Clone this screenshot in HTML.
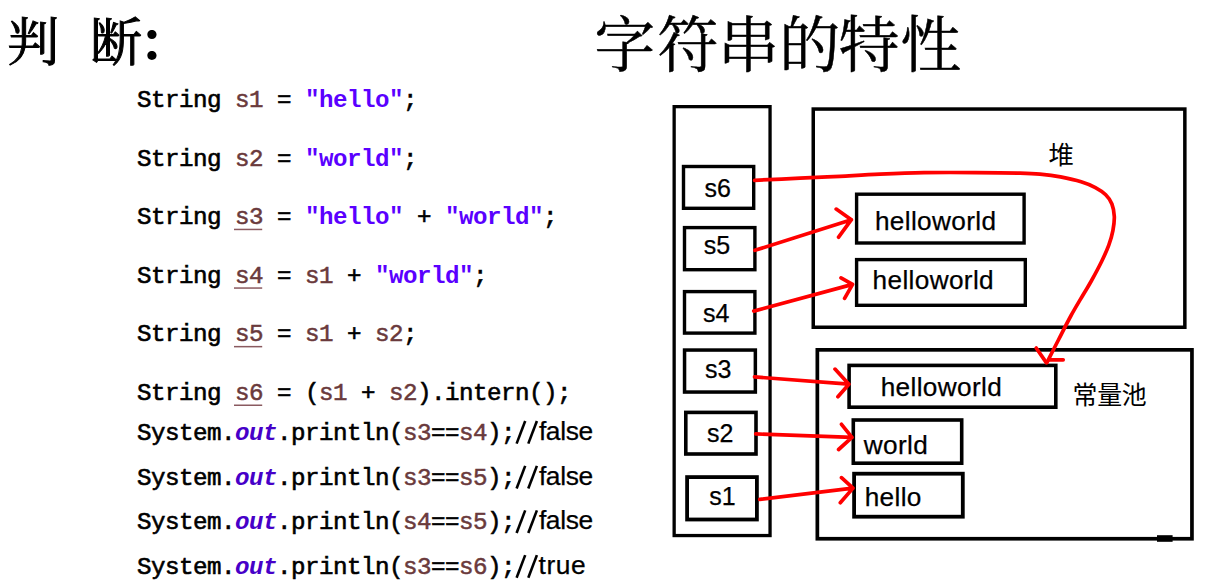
<!DOCTYPE html>
<html><head><meta charset="utf-8"><title>slide</title>
<style>
html,body{margin:0;padding:0;background:#fff;}
body{width:1230px;height:584px;position:relative;overflow:hidden;font-family:"Liberation Sans",sans-serif;}
.code text{font-family:"Liberation Mono",monospace;font-size:24.2px;letter-spacing:-0.522px;white-space:pre;}
.code .k{fill:#000;stroke:#000;stroke-width:0.6px;}
.code .v{fill:#6a3a3c;stroke:#6a3a3c;stroke-width:0.5px;}
.code .ul{fill:#8a5a60;}
.code .s{fill:#5a00ff;font-weight:bold;}
.code .o{fill:#4600c8;font-weight:bold;font-style:italic;}
.code .c{font-family:"Liberation Sans",sans-serif;font-size:26.4px;fill:#000;stroke:#000;stroke-width:0.25px;}
.code .sl{stroke:#000;stroke-width:2.6;}
svg{position:absolute;left:0;top:0;}
.bx rect{fill:none;stroke:#000;}
.ar path{fill:none;stroke:#f00;stroke-width:3.7;stroke-linecap:round;stroke-linejoin:round;}
.lb text{font-family:"Liberation Sans",sans-serif;font-size:26.2px;fill:#000;letter-spacing:0.35px;stroke:#000;stroke-width:0.25px;}
.hd text{font-family:"Liberation Serif","Noto Serif CJK SC",serif;fill:#000;}
.cj text{font-family:"Liberation Sans","Noto Sans CJK SC",sans-serif;fill:#000;}
</style></head>
<body>

<svg width="1230" height="584" viewBox="0 0 1230 584">
<g class="code" xml:space="preserve">
<text class="k" x="137.00" y="106.90">String</text>
<text class="v" x="235.00" y="106.90">s1</text>
<text class="k" x="277.00" y="106.90">=</text>
<text class="s" x="305.00" y="106.90">&quot;hello&quot;</text>
<text class="k" x="403.00" y="106.90">;</text>
<text class="k" x="137.00" y="165.50">String</text>
<text class="v" x="235.00" y="165.50">s2</text>
<text class="k" x="277.00" y="165.50">=</text>
<text class="s" x="305.00" y="165.50">&quot;world&quot;</text>
<text class="k" x="403.00" y="165.50">;</text>
<text class="k" x="137.00" y="224.10">String</text>
<text class="v" x="235.00" y="224.10">s3</text>
<rect class="ul" x="234.00" y="228.70" width="28.20" height="1.5"/>
<text class="k" x="277.00" y="224.10">=</text>
<text class="s" x="305.00" y="224.10">&quot;hello&quot;</text>
<text class="k" x="417.00" y="224.10">+</text>
<text class="s" x="445.00" y="224.10">&quot;world&quot;</text>
<text class="k" x="543.00" y="224.10">;</text>
<text class="k" x="137.00" y="282.70">String</text>
<text class="v" x="235.00" y="282.70">s4</text>
<rect class="ul" x="234.00" y="287.30" width="28.20" height="1.5"/>
<text class="k" x="277.00" y="282.70">=</text>
<text class="v" x="305.00" y="282.70">s1</text>
<text class="k" x="347.00" y="282.70">+</text>
<text class="s" x="375.00" y="282.70">&quot;world&quot;</text>
<text class="k" x="473.00" y="282.70">;</text>
<text class="k" x="137.00" y="341.30">String</text>
<text class="v" x="235.00" y="341.30">s5</text>
<rect class="ul" x="234.00" y="345.90" width="28.20" height="1.5"/>
<text class="k" x="277.00" y="341.30">=</text>
<text class="v" x="305.00" y="341.30">s1</text>
<text class="k" x="347.00" y="341.30">+</text>
<text class="v" x="375.00" y="341.30">s2</text>
<text class="k" x="403.00" y="341.30">;</text>
<text class="k" x="137.00" y="399.90">String</text>
<text class="v" x="235.00" y="399.90">s6</text>
<rect class="ul" x="234.00" y="404.50" width="28.20" height="1.5"/>
<text class="k" x="277.00" y="399.90">= (</text>
<text class="v" x="319.00" y="399.90">s1</text>
<text class="k" x="361.00" y="399.90">+</text>
<text class="v" x="389.00" y="399.90">s2</text>
<text class="k" x="417.00" y="399.90">).intern();</text>
<text class="k" x="137.00" y="439.60">System.</text>
<text class="o" x="235.00" y="439.60">out</text>
<text class="k" x="277.00" y="439.60">.println(</text>
<text class="v" x="403.00" y="439.60">s3</text>
<text class="k" x="431.00" y="439.60">==</text>
<text class="v" x="459.00" y="439.60">s4</text>
<text class="k" x="487.00" y="439.60">);</text>
<line class="sl" x1="516.60" y1="443.60" x2="525.20" y2="421.00"/>
<line class="sl" x1="528.30" y1="443.60" x2="536.90" y2="421.00"/>
<text class="c" x="538.9" y="439.60" style="letter-spacing:-0.35px">false</text>
<text class="k" x="137.00" y="484.50">System.</text>
<text class="o" x="235.00" y="484.50">out</text>
<text class="k" x="277.00" y="484.50">.println(</text>
<text class="v" x="403.00" y="484.50">s3</text>
<text class="k" x="431.00" y="484.50">==</text>
<text class="v" x="459.00" y="484.50">s5</text>
<text class="k" x="487.00" y="484.50">);</text>
<line class="sl" x1="516.60" y1="488.50" x2="525.20" y2="465.90"/>
<line class="sl" x1="528.30" y1="488.50" x2="536.90" y2="465.90"/>
<text class="c" x="538.9" y="484.50" style="letter-spacing:-0.35px">false</text>
<text class="k" x="137.00" y="529.00">System.</text>
<text class="o" x="235.00" y="529.00">out</text>
<text class="k" x="277.00" y="529.00">.println(</text>
<text class="v" x="403.00" y="529.00">s4</text>
<text class="k" x="431.00" y="529.00">==</text>
<text class="v" x="459.00" y="529.00">s5</text>
<text class="k" x="487.00" y="529.00">);</text>
<line class="sl" x1="516.60" y1="533.00" x2="525.20" y2="510.40"/>
<line class="sl" x1="528.30" y1="533.00" x2="536.90" y2="510.40"/>
<text class="c" x="538.9" y="529.00" style="letter-spacing:-0.35px">false</text>
<text class="k" x="137.00" y="573.70">System.</text>
<text class="o" x="235.00" y="573.70">out</text>
<text class="k" x="277.00" y="573.70">.println(</text>
<text class="v" x="403.00" y="573.70">s3</text>
<text class="k" x="431.00" y="573.70">==</text>
<text class="v" x="459.00" y="573.70">s6</text>
<text class="k" x="487.00" y="573.70">);</text>
<line class="sl" x1="516.60" y1="577.70" x2="525.20" y2="555.10"/>
<line class="sl" x1="528.30" y1="577.70" x2="536.90" y2="555.10"/>
<text class="c" x="538.6" y="573.70" style="letter-spacing:0.5px">true</text>
</g>
<g class="bx">
<rect x="674.15" y="106.65" width="95.90" height="428.90" stroke-width="3.3"/>
<rect x="813.25" y="109.05" width="371.60" height="218.20" stroke-width="3.5"/>
<rect x="817.35" y="349.85" width="374.60" height="188.90" stroke-width="3.7"/>
<rect x="683.50" y="166.50" width="70.20" height="41.80" stroke-width="3.4"/>
<rect x="684.50" y="227.60" width="70.40" height="42.10" stroke-width="3.4"/>
<rect x="684.50" y="291.60" width="70.40" height="41.50" stroke-width="3.4"/>
<rect x="684.55" y="350.05" width="70.80" height="42.00" stroke-width="3.5"/>
<rect x="685.80" y="412.40" width="70.20" height="41.60" stroke-width="3.6"/>
<rect x="687.10" y="477.10" width="69.80" height="42.40" stroke-width="3.8"/>
<rect x="856.60" y="194.20" width="167.50" height="48.80" stroke-width="3.4"/>
<rect x="856.60" y="259.60" width="168.70" height="45.70" stroke-width="3.4"/>
<rect x="849.10" y="365.40" width="206.70" height="41.80" stroke-width="3.6"/>
<rect x="853.30" y="420.00" width="108.40" height="43.20" stroke-width="3.6"/>
<rect x="854.10" y="473.70" width="108.70" height="43.00" stroke-width="3.8"/>
<rect x="1157" y="535.2" width="15.6" height="6.6" style="fill:#000;stroke:none"/>
</g>
<g class="lb">
<text x="704.60" y="196.70" style="font-size:25.0px;letter-spacing:0">s6</text>
<text x="703.80" y="254.00" style="font-size:25.0px;letter-spacing:0">s5</text>
<text x="702.90" y="321.80" style="font-size:25.0px;letter-spacing:0">s4</text>
<text x="705.00" y="378.30" style="font-size:25.0px;letter-spacing:0">s3</text>
<text x="707.00" y="441.80" style="font-size:25.0px;letter-spacing:0">s2</text>
<text x="709.30" y="504.70" style="font-size:25.0px;letter-spacing:0">s1</text>
<text x="874.90" y="229.60">helloworld</text>
<text x="872.60" y="289.00">helloworld</text>
<text x="880.70" y="396.40">helloworld</text>
<text x="863.80" y="453.50">world</text>
<text x="864.70" y="505.90">hello</text>
</g>
<g class="ar">
<path d="M754.93 250.35 L851.38 219.71 M836.2 209.1 L851.38 219.71 L838.6 237.2"/>
<path d="M753.75 311.11 L852.56 284.34 M841.0 277.9 L852.56 284.34 L844.6 298.3"/>
<path d="M754.5 376.91 L848.9 384.17 M835.0 369.1 L848.9 384.17 L837.9 396.7"/>
<path d="M755.7 433.95 L852.0 437.44 M841.5 424.3 L852.0 437.44 L838.6 449.5"/>
<path d="M759.79 499.42 L853.01 488.1 M841.5 477.6 L853.01 488.1 L840.3 502.7"/>
<path d="M754.6 180.3 C762.2 180.0 785.8 178.9 800.0 178.2 C814.2 177.5 826.7 177.0 840.0 176.3 C853.3 175.6 866.0 174.8 880.0 174.2 C894.0 173.6 908.2 173.0 924.0 172.7 C939.8 172.4 959.0 172.5 975.0 172.6 C991.0 172.7 1009.2 172.9 1020.0 173.2 C1030.8 173.5 1033.2 173.6 1040.0 174.2 C1046.8 174.8 1053.7 175.6 1060.5 176.9 C1067.3 178.2 1075.3 180.0 1081.1 181.8 C1086.9 183.6 1091.3 185.4 1095.4 187.6 C1099.5 189.8 1103.0 192.1 1105.7 194.8 C1108.5 197.5 1110.5 200.4 1111.9 204.0 C1113.3 207.6 1114.1 211.9 1114.3 216.3 C1114.5 220.8 1113.8 225.9 1112.9 230.7 C1112.0 235.5 1110.7 240.0 1108.8 245.1 C1106.9 250.2 1104.5 255.5 1101.6 261.5 C1098.7 267.5 1094.4 275.4 1091.3 281.0 C1088.2 286.6 1086.4 289.2 1083.0 295.0 C1079.6 300.8 1074.9 308.5 1070.8 316.0 C1066.7 323.5 1062.4 332.2 1058.4 340.0 C1054.4 347.8 1048.8 358.8 1046.9 362.6"/>
<path d="M1036.2 348.0 L1046.3 362.6 M1049 359.9 L1063.2 359.8"/>
</g>
<g class="hd">
<text x="7.35 90.03" y="61.00" font-size="52" stroke="#000" stroke-width="1.0">判断</text>
<text x="138" y="61.00" font-size="52" font-weight="bold">：</text>
<text x="594.3 657.5 717.9 779.2 838.4 900.2" y="66.70" font-size="61" stroke="#000" stroke-width="0.5">字符串的特性</text>
</g>
<g class="cj">
<text x="1048.40" y="163.70" font-size="25.4">堆</text>
<text x="1072.60 1097.20 1121.80" y="403.70" font-size="24.9">常量池</text>
</g>
</svg>
</body></html>
